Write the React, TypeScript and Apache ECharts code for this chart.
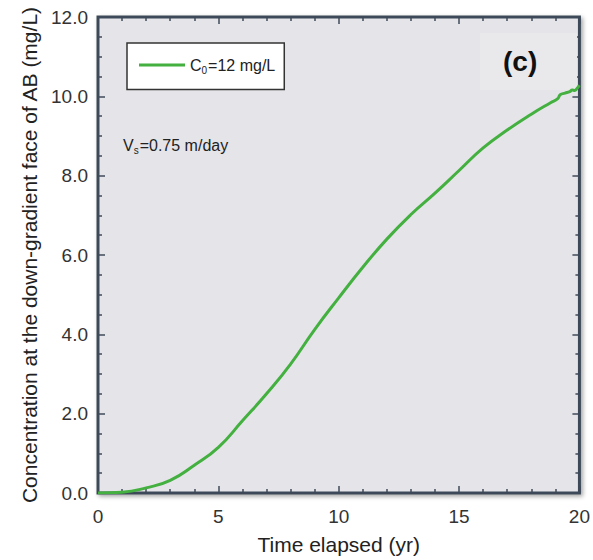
import React, { useEffect, useRef } from "react";
import * as echarts from "echarts";

const timeYr = [0, 1, 2, 3, 4, 5, 6, 7, 8, 9, 10, 11, 12, 13, 14, 15, 16, 17, 18, 18.8, 19.1, 19.2, 19.4, 19.6, 19.7, 19.8, 19.9, 20];
const conc = [0, 0.02, 0.13, 0.32, 0.7, 1.15, 1.82, 2.5, 3.25, 4.12, 4.92, 5.69, 6.4, 7.02, 7.56, 8.13, 8.7, 9.15, 9.55, 9.84, 9.94, 10.04, 10.08, 10.12, 10.16, 10.15, 10.2, 10.28];
const xTicks = [0, 5, 10, 15, 20];
const yTicks = [0, 2, 4, 6, 8, 10, 12];
const seriesName = "C0=12 mg/L";

export default function App() {
  const ref = useRef<HTMLDivElement>(null);
  useEffect(() => {
    if (!ref.current) return;
    const chart = echarts.init(ref.current, null, { renderer: "svg" });
    const font = "Liberation Sans, Arial, sans-serif";
    const tickStyle = { color: "#3e4a58", width: 1.5 };
    const yRange = { type: "value", min: yTicks[0], max: yTicks[yTicks.length - 1], interval: 2 };
    const xRange = { type: "value", min: xTicks[0], max: xTicks[xTicks.length - 1], interval: 5 };
    const plainTicksY = {
      axisLine: { show: false, onZero: false },
      axisTick: { show: true, inside: true, length: 7, lineStyle: tickStyle },
      minorTick: { show: true, splitNumber: 4, length: 4, lineStyle: tickStyle },
      splitLine: { show: false },
      axisLabel: { show: false },
    };
    const plainTicksX = {
      axisLine: { show: false, onZero: false },
      axisTick: { show: true, inside: true, length: 7, lineStyle: tickStyle },
      minorTick: { show: true, splitNumber: 5, length: 4, lineStyle: tickStyle },
      splitLine: { show: false },
      axisLabel: { show: false },
    };
    chart.setOption({
      animation: false,
      grid: {
        left: 98,
        right: 13,
        top: 17,
        bottom: 64,
        show: true,
        backgroundColor: "#e5e5e9",
        borderColor: "#3e4a58",
        borderWidth: 3,
        shadowColor: "rgba(0,0,0,0.35)",
        shadowBlur: 4,
        shadowOffsetX: 2,
        shadowOffsetY: 2,
      },
      legend: {
        left: 127,
        top: 43,
        data: [seriesName],
        icon: "rect",
        backgroundColor: "#ffffff",
        borderColor: "#333333",
        borderWidth: 1.5,
        borderRadius: 0,
        padding: [14, 9, 14, 12],
        itemWidth: 46,
        itemHeight: 3,
        itemGap: 6,
        formatter: () => "{a|C}{b|0}{a|=12 mg/L}",
        textStyle: {
          rich: {
            a: { fontFamily: font, fontSize: 16, color: "#222" },
            b: { fontFamily: font, fontSize: 10, color: "#222", verticalAlign: "bottom", padding: [11, 1, 0, 0] },
          },
        },
      },
      xAxis: [
        {
          ...xRange,
          name: "Time elapsed (yr)",
          nameLocation: "middle",
          nameGap: 41,
          nameTextStyle: { fontFamily: font, fontSize: 21, color: "#222" },
          ...plainTicksX,
          axisLabel: { fontFamily: font, fontSize: 19, color: "#333", margin: 14 },
        },
        { ...xRange, position: "top", ...plainTicksX },
      ],
      yAxis: [
        {
          ...yRange,
          position: "left",
          name: "Concentration at the down-gradient face of AB (mg/L)",
          nameLocation: "middle",
          nameGap: 55,
          nameTextStyle: { fontFamily: font, fontSize: 21, color: "#222" },
          axisLine: { show: false, onZero: false },
          axisTick: { show: false },
          minorTick: { show: false },
          splitLine: { show: false },
          axisLabel: { fontFamily: font, fontSize: 19, color: "#333", margin: 10, formatter: (v: number) => v.toFixed(1) },
        },
        { ...yRange, position: "right", ...plainTicksY },
        { ...yRange, position: "left", offset: 0, ...plainTicksY },
      ],
      graphic: [
        {
          type: "rect",
          shape: { x: 480, y: 33, width: 97, height: 57 },
          style: { fill: "#e9e9eb" },
          z: 1,
        },
        {
          type: "text",
          left: 503,
          top: 47,
          style: { text: "(c)", fontFamily: font, fontSize: 28, fontWeight: "bold", fill: "#111" },
          z: 10,
        },
        {
          type: "text",
          left: 123,
          top: 137,
          style: {
            text: "{a|V}{b|s}{a|=0.75 m/day}",
            rich: {
              a: { fontFamily: font, fontSize: 16, fill: "#222" },
              b: { fontFamily: font, fontSize: 10, fill: "#222", padding: [11, 1, 0, 0], verticalAlign: "bottom" },
            },
          },
          z: 10,
        },
      ],
      series: [
        {
          name: seriesName,
          type: "line",
          data: timeYr.map((t, i) => [t, conc[i]]),
          showSymbol: false,
          symbol: "none",
          smooth: 0.5,
          lineStyle: { color: "#43b040", width: 3 },
          itemStyle: { color: "#43b040" },
          z: 5,
        },
      ],
    });
    return () => chart.dispose();
  }, []);
  return <div ref={ref} style={{ width: 593, height: 560, position: "absolute", left: 0, top: 0 }} />;
}
